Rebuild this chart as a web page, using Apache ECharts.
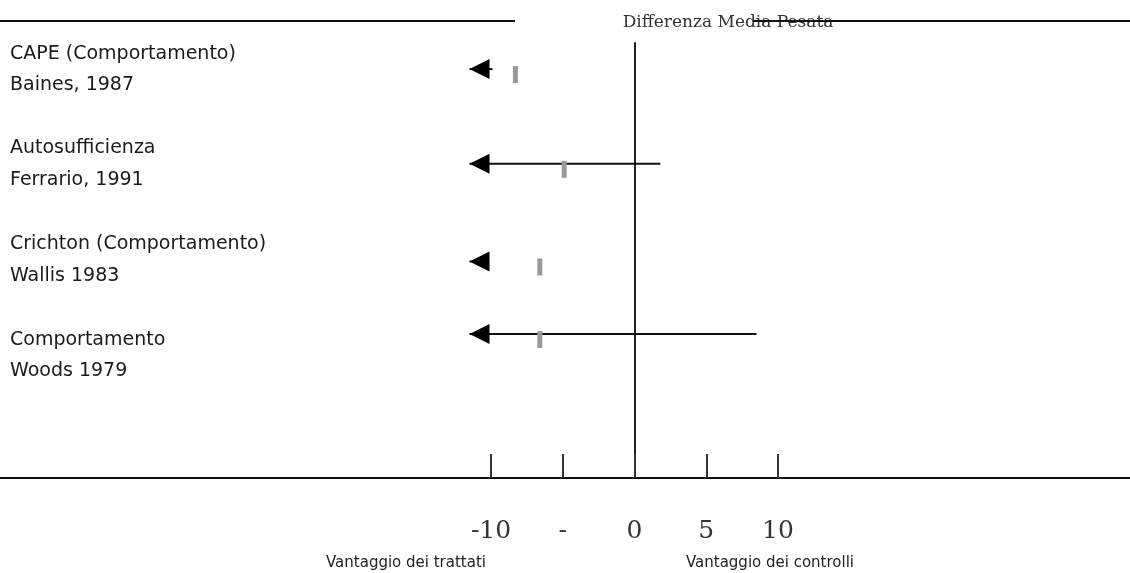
<!DOCTYPE html>
<html>
<head>
<meta charset="utf-8">
<script src="https://cdn.jsdelivr.net/npm/echarts@6/dist/echarts.min.js"></script>
<style>
  html, body { margin: 0; padding: 0; background: #fff; }
  #chart { width: 1130px; height: 573px; }
</style>
</head>
<body>
<div id="chart"></div>
<script>
// ---- data ----
const studies  = ["CAPE (Comportamento)", "Autosufficienza", "Crichton (Comportamento)", "Comportamento"];
const authors  = ["Baines, 1987", "Ferrario, 1991", "Wallis 1983", "Woods 1979"];
const estimates = [-8.3, -4.9, -6.6, -6.6];          // weighted mean difference
const lowerCI   = [-14, -14, -14, -14];              // off scale to the left (drawn as arrow)
const upperCI   = [-9.9, 1.8, -11, 8.5];
const rowY      = [0.27, 1.25, 2.26, 3.01];          // vertical position of each study row
const studyY    = [0.11, 1.09, 2.08, 3.07];
const authorY   = [0.44, 1.42, 2.41, 3.39];
const tickValues = [-10, -5, 0, 5, 10];
const tickLabels = ["-10", "-", "0", "5", "10"];
const headerText = "Differenza Media Pesata";
const leftNote  = "Vantaggio dei trattati";
const rightNote = "Vantaggio dei controlli";

// ---- axis extent / drawing limits ----
const xMin = -44.22, xMax = 34.53;
const xLimit = -11.5;   // left display limit of the forest plot (arrow tip)

const chart = echarts.init(document.getElementById('chart'));

const ciData = estimates.map((e, i) => [lowerCI[i], upperCI[i], e, rowY[i]]);
const labelData = [];
studies.forEach((s, i) => labelData.push({ name: s, value: [xMin, studyY[i]] }));
authors.forEach((a, i) => labelData.push({ name: a, value: [xMin, authorY[i]] }));

const option = {
  animation: false,
  backgroundColor: '#ffffff',
  grid: { left: 0, right: 0, top: 43, bottom: 95, containLabel: false },
  xAxis: {
    type: 'value',
    min: xMin,
    max: xMax,
    axisLine: { show: true, onZero: false, lineStyle: { color: '#111', width: 2 } },
    axisTick: {
      show: true, inside: true, length: 24,
      customValues: tickValues,
      lineStyle: { color: '#333', width: 2 }
    },
    axisLabel: {
      show: true,
      customValues: tickValues,
      margin: 53,
      verticalAlign: 'middle',
      fontFamily: 'DejaVu Serif',
      fontSize: 25,
      color: '#333',
      formatter: v => {
        const k = tickValues.indexOf(Math.round(v));
        return k >= 0 ? tickLabels[k] : '';
      }
    },
    splitLine: { show: false }
  },
  yAxis: {
    type: 'value',
    inverse: true,
    min: 0,
    max: 4.5,
    axisLine: { show: true, onZero: true, lineStyle: { color: '#222', width: 2 } },
    axisTick: { show: false },
    axisLabel: { show: false },
    splitLine: { show: false }
  },
  series: [
    {
      type: 'custom',
      clip: false,
      data: ciData,
      renderItem: function (params, api) {
        const lo = api.value(0), hi = api.value(1), est = api.value(2), y = api.value(3);
        const from = Math.max(lo, xLimit);
        const pLo = api.coord([from, y]);
        const pHi = api.coord([hi, y]);
        const pE = api.coord([est, y]);
        const children = [];
        if (hi > from) {
          children.push({
            type: 'line',
            shape: { x1: pLo[0], y1: pLo[1], x2: pHi[0], y2: pHi[1] },
            style: { stroke: '#111', lineWidth: 2 }
          });
        }
        children.push({
          type: 'rect',
          shape: { x: pE[0] - 2.5, y: pE[1] - 3, width: 5, height: 17 },
          style: { fill: '#999' }
        });
        if (lo < xLimit) {
          children.push({
            type: 'polygon',
            shape: { points: [[pLo[0], pLo[1]], [pLo[0] + 20, pLo[1] - 10], [pLo[0] + 20, pLo[1] + 10]] },
            style: { fill: '#000' }
          });
        }
        return { type: 'group', children: children };
      }
    },
    {
      type: 'scatter',
      symbolSize: 0,
      silent: true,
      clip: false,
      itemStyle: { opacity: 1 },
      data: labelData,
      label: {
        show: true,
        position: 'right',
        distance: 10,
        formatter: '{b}',
        fontFamily: 'DejaVu Sans',
        fontSize: 19,
        color: '#1a1a1a',
        opacity: 1
      }
    }
  ],
  graphic: [
    {
      type: 'text', x: 728, y: 23, z: 1,
      style: {
        text: headerText, fontFamily: 'DejaVu Serif', fontSize: 17,
        fill: '#333', align: 'center', verticalAlign: 'middle'
      }
    },
    {
      type: 'line', z: 2,
      shape: { x1: 0, y1: 21, x2: 515, y2: 21 },
      style: { stroke: '#111', lineWidth: 2 }
    },
    {
      type: 'line', z: 2,
      shape: { x1: 753, y1: 21, x2: 1130, y2: 21 },
      style: { stroke: '#111', lineWidth: 2 }
    },
    {
      type: 'text', x: 406, y: 563,
      style: {
        text: leftNote, fontFamily: 'DejaVu Sans', fontSize: 15,
        fill: '#222', align: 'center', verticalAlign: 'middle'
      }
    },
    {
      type: 'text', x: 770, y: 563,
      style: {
        text: rightNote, fontFamily: 'DejaVu Sans', fontSize: 15,
        fill: '#222', align: 'center', verticalAlign: 'middle'
      }
    }
  ]
};

chart.setOption(option);
</script>
</body>
</html>
